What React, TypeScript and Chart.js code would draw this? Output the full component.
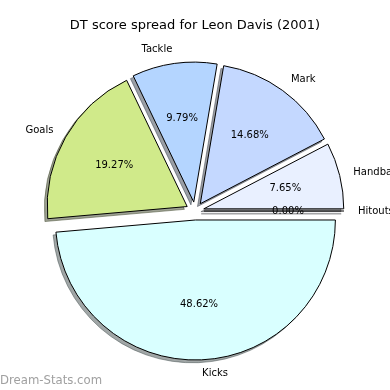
import React, { useEffect, useRef } from "react";
import { Chart, registerables } from "chart.js";

Chart.register(...registerables);

const TITLE = "DT score spread for Leon Davis (2001)";
const WATERMARK = "Dream-Stats.com";

// matplotlib order: counter-clockwise starting at 3 o'clock
const categories = ["Hitouts", "Handballs", "Mark", "Tackle", "Goals", "Kicks"];
const shares = [0.0, 7.65, 14.68, 9.79, 19.27, 48.62];
const sliceColors = ["#eef3ff", "#e9f0ff", "#c4d8ff", "#b4d5ff", "#d0ea8a", "#d9ffff"];

const RADIUS = 140;
const EXPLODE = 9;
const SHADOW_DX = -2.8;
const SHADOW_DY = 2.8;
const FONT = '"DejaVu Sans", Verdana, sans-serif';

function shadowOf(hex: string): string {
  const h = hex.replace("#", "");
  const r = parseInt(h.slice(0, 2), 16);
  const g = parseInt(h.slice(2, 4), 16);
  const b = parseInt(h.slice(4, 6), 16);
  return `rgba(${Math.round(r * 0.3)},${Math.round(g * 0.3)},${Math.round(b * 0.3)},0.5)`;
}

const mplPie = {
  id: "mplPie",
  beforeDatasetDraw(chart: any) {
    const ctx: CanvasRenderingContext2D = chart.ctx;
    const meta = chart.getDatasetMeta(0);
    const arcs = meta.data;
    const area = chart.chartArea;

    const geom = arcs.map((arc: any) => {
      const p = arc.getProps(["x", "y", "startAngle", "endAngle", "outerRadius"], true);
      const mid = (p.startAngle + p.endAngle) / 2;
      return { ...p, mid, dx: EXPLODE * Math.cos(mid), dy: EXPLODE * Math.sin(mid) };
    });

    const drawArc = (arc: any, dx: number, dy: number, overrides?: any) => {
      ctx.save();
      ctx.translate(dx, dy);
      if (overrides) {
        const saved = arc.options;
        arc.options = Object.assign({}, saved, overrides);
        arc.draw(ctx, area);
        arc.options = saved;
      } else {
        arc.draw(ctx, area);
      }
      ctx.restore();
    };

    const drawLine = (g: any, dx: number, dy: number, color: string, width: number) => {
      ctx.save();
      ctx.strokeStyle = color;
      ctx.lineWidth = width;
      ctx.beginPath();
      ctx.moveTo(g.x + dx, g.y + dy);
      ctx.lineTo(g.x + dx + g.outerRadius * Math.cos(g.startAngle), g.y + dy + g.outerRadius * Math.sin(g.startAngle));
      ctx.stroke();
      ctx.restore();
    };

    // shadows first
    arcs.forEach((arc: any, i: number) => {
      const g = geom[i];
      const col = shadowOf(chart.data.datasets[0].backgroundColor[i]);
      if (Math.abs(g.endAngle - g.startAngle) < 1e-9) {
        drawLine(g, g.dx + SHADOW_DX, g.dy + SHADOW_DY, col, 1.5);
      } else {
        drawArc(arc, g.dx + SHADOW_DX, g.dy + SHADOW_DY, {
          backgroundColor: col,
          borderColor: col,
        });
      }
    });
    // wedges
    arcs.forEach((arc: any, i: number) => {
      const g = geom[i];
      if (Math.abs(g.endAngle - g.startAngle) < 1e-9) {
        drawLine(g, g.dx, g.dy, "#000", 1);
      } else {
        drawArc(arc, g.dx, g.dy);
      }
    });
    return false;
  },
  afterDatasetsDraw(chart: any) {
    const ctx: CanvasRenderingContext2D = chart.ctx;
    const meta = chart.getDatasetMeta(0);
    const values: number[] = chart.data.datasets[0].data;
    const labels: string[] = chart.data.labels;
    const total = values.reduce((a, b) => a + b, 0);
    ctx.save();
    ctx.fillStyle = "#000";
    ctx.font = `10px ${FONT}`;
    ctx.textBaseline = "middle";
    meta.data.forEach((arc: any, i: number) => {
      const p = arc.getProps(["x", "y", "startAngle", "endAngle", "outerRadius"], true);
      const mid = (p.startAngle + p.endAngle) / 2;
      const cx = p.x + EXPLODE * Math.cos(mid);
      const cy = p.y + EXPLODE * Math.sin(mid);
      const r = p.outerRadius;
      // category label
      const lx = cx + 1.1 * r * Math.cos(mid);
      const ly = cy + 1.1 * r * Math.sin(mid);
      ctx.textAlign = lx - p.x > 0 ? "left" : "right";
      ctx.fillText(labels[i], lx, ly);
      // percentage
      const px = cx + 0.6 * r * Math.cos(mid);
      const py = cy + 0.6 * r * Math.sin(mid);
      ctx.textAlign = "center";
      ctx.fillText(((values[i] / total) * 100).toFixed(2) + "%", px, py);
    });
    ctx.restore();
  },
  afterDraw(chart: any) {
    const ctx: CanvasRenderingContext2D = chart.ctx;
    ctx.save();
    ctx.fillStyle = "#000";
    ctx.font = `13px ${FONT}`;
    ctx.textAlign = "center";
    ctx.textBaseline = "middle";
    ctx.fillText(TITLE, 195, 26);
    ctx.fillStyle = "#a0a0a0";
    ctx.font = `11.7px ${FONT}`;
    ctx.textAlign = "left";
    ctx.textBaseline = "alphabetic";
    ctx.fillText(WATERMARK, 0, 384);
    ctx.restore();
  },
};

export default function App() {
  const ref = useRef<HTMLCanvasElement | null>(null);
  useEffect(() => {
    if (!ref.current) return;
    const order = categories.map((_, i) => categories.length - 1 - i);
    const chart = new Chart(ref.current, {
      type: "pie",
      data: {
        labels: order.map((i) => categories[i]),
        datasets: [
          {
            data: order.map((i) => shares[i]),
            backgroundColor: order.map((i) => sliceColors[i]),
            borderColor: "#000",
            borderWidth: 1,
            borderJoinStyle: "miter",
          } as any,
        ],
      },
      options: {
        responsive: false,
        animation: false,
        devicePixelRatio: 1,
        rotation: 90,
        radius: RADIUS,
        layout: { padding: { top: 32, bottom: 0, left: 0, right: 0 } },
        plugins: {
          legend: { display: false },
          tooltip: { enabled: false },
          title: { display: false },
        },
      } as any,
      plugins: [mplPie as any],
    });
    return () => chart.destroy();
  }, []);
  return (
    <div style={{ position: "absolute", left: 0, top: 0, width: 390, height: 390, background: "#fff" }}>
      <canvas ref={ref} width={390} height={390} style={{ display: "block" }} />
    </div>
  );
}
